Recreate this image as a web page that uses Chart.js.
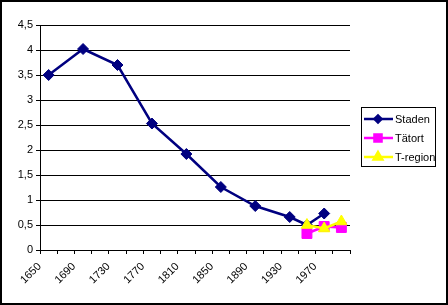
<!DOCTYPE html>
<html>
<head>
<meta charset="utf-8">
<script src="https://cdn.jsdelivr.net/npm/chart.js@4"></script>
<style>
  html, body { margin: 0; padding: 0; background: #fff; }
  #wrap { width: 448px; height: 305px; }
</style>
</head>
<body>
<div id="wrap"><canvas id="chart" width="448" height="305"></canvas></div>
<script>
const years = ['1650', '1670', '1690', '1710', '1730', '1750', '1770', '1790', '1810',
  '1830', '1850', '1870', '1890', '1910', '1930', '1950', '1970', '1990'];

const staden = [3.5, null, 4.02, null, 3.7, null, 2.53, null, 1.92, null,
  1.26, null, 0.88, null, 0.66, 0.5, 0.73, null];
const tatort = [null, null, null, null, null, null, null, null, null, null,
  null, null, null, null, null, 0.33, 0.47, 0.45];
const tregion = [null, null, null, null, null, null, null, null, null, null,
  null, null, null, null, null, 0.5, 0.43, 0.57];

const FONT = 'Liberation Sans, Arial, sans-serif';

// white background + outer frame like the Excel chart area
const frame = {
  id: 'frame',
  beforeDraw(chart) {
    const ctx = chart.ctx;
    ctx.save();
    ctx.fillStyle = '#fff';
    ctx.fillRect(0, 0, chart.width, chart.height);
    ctx.restore();
  },
  afterDraw(chart) {
    const ctx = chart.ctx;
    ctx.save();
    ctx.strokeStyle = '#000';
    ctx.lineWidth = 2;
    ctx.strokeRect(1, 1, chart.width - 2, chart.height - 2);
    ctx.restore();
  }
};

// legend box on the right
const boxLegend = {
  id: 'boxLegend',
  afterDraw(chart) {
    const ctx = chart.ctx;
    const x0 = 361, y0 = 107, w = 74, h = 59;
    ctx.save();
    ctx.fillStyle = '#fff';
    ctx.fillRect(x0, y0, w, h);
    ctx.strokeStyle = '#000';
    ctx.lineWidth = 1;
    ctx.strokeRect(x0 + 0.5, y0 + 0.5, w, h);
    ctx.font = '11px ' + FONT;
    ctx.textBaseline = 'middle';
    const items = [
      { label: 'Staden', color: '#000080', style: 'rectRot', r: 3.5 },
      { label: 'Tätort', color: '#ff00ff', style: 'rect', r: 5 },
      { label: 'T-region', color: '#ffff00', style: 'triangle', r: 5 }
    ];
    items.forEach((it, i) => {
      const y = y0 + 12 + i * 19;
      ctx.strokeStyle = it.color;
      ctx.lineWidth = 2.5;
      ctx.beginPath();
      ctx.moveTo(364, y);
      ctx.lineTo(393, y);
      ctx.stroke();
      ctx.fillStyle = it.color;
      Chart.helpers.drawPoint(ctx, { pointStyle: it.style, radius: it.r, borderWidth: 1 }, 378, y);
      ctx.fill();
      ctx.fillStyle = '#000';
      ctx.fillText(it.label, 395, y + 1);
    });
    ctx.restore();
  }
};

new Chart(document.getElementById('chart'), {
  type: 'line',
  data: {
    labels: years,
    datasets: [
      {
        label: 'Staden', data: staden, order: 3,
        borderColor: '#000080', backgroundColor: '#000080',
        borderWidth: 2.5, pointStyle: 'rectRot', pointRadius: 5.5,
        pointBorderWidth: 1, spanGaps: true, tension: 0
      },
      {
        label: 'Tätort', data: tatort, order: 2,
        borderColor: '#ff00ff', backgroundColor: '#ff00ff',
        borderWidth: 2.5, pointStyle: 'rect', pointRadius: 7,
        pointBorderWidth: 1, spanGaps: true, tension: 0
      },
      {
        label: 'T-region', data: tregion, order: 1,
        borderColor: '#ffff00', backgroundColor: '#ffff00',
        borderWidth: 2.5, pointStyle: 'triangle', pointRadius: 6.5,
        pointBorderWidth: 1, spanGaps: true, tension: 0
      }
    ]
  },
  options: {
    responsive: false,
    animation: false,
    layout: { padding: { top: 25, right: 98, bottom: 0, left: 0 } },
    plugins: {
      legend: { display: false },
      tooltip: { enabled: false }
    },
    scales: {
      x: {
        offset: true,
        grid: { offset: true, drawOnChartArea: false, color: '#000', tickLength: 4 },
        border: { color: '#000', width: 1 },
        ticks: {
          autoSkip: false, minRotation: 45, maxRotation: 45,
          color: '#000', font: { family: FONT, size: 11 },
          labelOffset: -9, padding: 6,
          callback: function (v, i) { return i % 2 === 0 ? this.getLabelForValue(v) : ''; }
        },
        afterFit(scale) { scale.height = 55; }
      },
      y: {
        min: 0, max: 4.5,
        grid: { color: '#000', tickLength: 4 },
        border: { color: '#000', width: 1 },
        ticks: {
          stepSize: 0.5, color: '#000', padding: 3,
          font: { family: FONT, size: 11 },
          callback: v => String(v).replace('.', ',')
        },
        afterFit(scale) { scale.width = 40; }
      }
    }
  },
  plugins: [frame, boxLegend]
});
</script>
</body>
</html>
